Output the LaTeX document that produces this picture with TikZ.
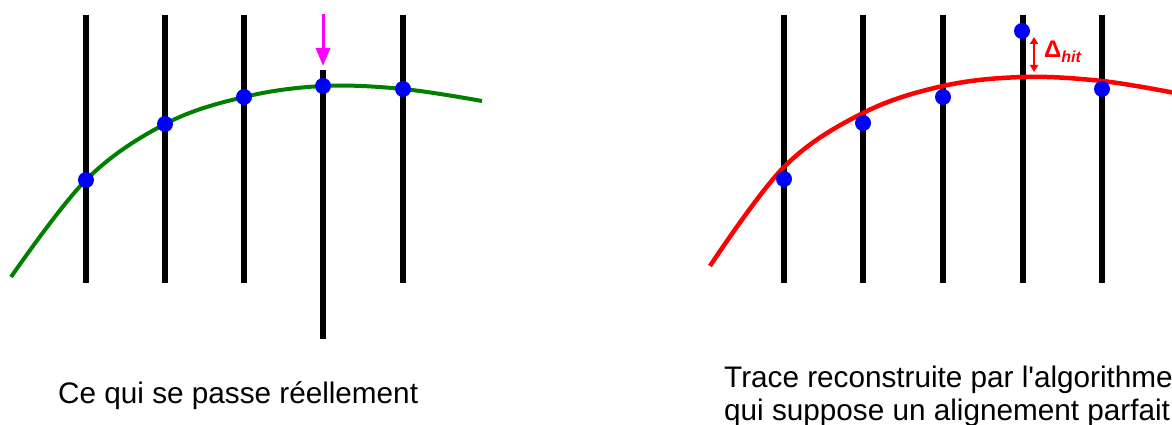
\documentclass[tikz,border=0pt]{standalone}
\usepackage{fontspec}
\newfontfamily\lib{Liberation Sans}
\usetikzlibrary{arrows.meta}
\definecolor{trkgreen}{RGB}{0,128,0}
\definecolor{trkred}{RGB}{255,0,0}
\definecolor{hitblue}{RGB}{0,0,255}
\definecolor{mag}{RGB}{255,0,255}
\tikzset{
  plane/.style={black, line width=5.5pt},
  hit/.style={circle, fill=hitblue, inner sep=0pt, minimum size=16pt},
  greentrack/.style={trkgreen, line width=4pt},
  redtrack/.style={trkred, line width=4.5pt},
  caption/.style={anchor=base west, inner sep=0pt, font=\lib\fontsize{29.7}{33}\selectfont, align=left},
}
\begin{document}
\begin{tikzpicture}[x=1pt, y=-1pt]
\clip (0,0) rectangle (1172,425);
\fill[white] (0,0) rectangle (1172,425);
% left panel planes
\foreach \n/\x in {1/86,2/165,3/244,5/403}{
  \coordinate (Lt\n) at (\x,15); \coordinate (Lb\n) at (\x,283);
  \draw[plane] (Lt\n) -- (Lb\n);
}
\coordinate (Lt4) at (323,70); \coordinate (Lb4) at (323,339);
\draw[plane] (Lt4) -- (Lb4);
% green track
\draw[greentrack] plot[smooth, tension=0.6] coordinates {(11,277) (86,180) (165,124) (244,97) (323,86) (403,89) (482,101)};
\node[hit] (Lh1) at (86,180) {};
\node[hit] (Lh2) at (165,124) {};
\node[hit] (Lh3) at (244,97) {};
\node[hit] (Lh4) at (323,86) {};
\node[hit] (Lh5) at (403,89) {};
% magenta arrow
\coordinate (Ma) at (323,14);
\coordinate (Mb) at (323,66);
\draw[mag, line width=3pt, -{Triangle[length=18pt, width=14pt]}] (Ma) -- (Mb);
% right panel planes
\foreach \n/\x in {1/784,2/863,3/943,4/1023,5/1102}{
  \coordinate (Rt\n) at (\x,15); \coordinate (Rb\n) at (\x,283);
  \draw[plane] (Rt\n) -- (Rb\n);
}
% red track
\draw[redtrack] plot[smooth, tension=0.6] coordinates {(710,266) (784,167) (863,113) (943,86) (1023,77) (1102,81) (1175,93)};
\node[hit] (Rh1) at (784,179) {};
\node[hit] (Rh2) at (863,123) {};
\node[hit] (Rh3) at (943,97) {};
\node[hit] (Rh4) at (1022,31) {};
\node[hit] (Rh5) at (1102,89) {};
% delta arrow
\coordinate (Da) at (1034,37);
\coordinate (Db) at (1034,72);
\draw[trkred, line width=2pt, {Triangle[length=7pt, width=8pt]}-{Triangle[length=7pt, width=8pt]}] (Da) -- (Db);
\node[anchor=base west, inner sep=0pt, text=trkred] (dl) at (1044,58) {\lib\bfseries\fontsize{24}{26}\selectfont Δ\raisebox{-5pt}{\fontsize{16}{17}\selectfont\itshape hit}};
% captions
\node[caption] (c1) at (58,403) {Ce qui se passe réellement};
\node[caption] (c2) at (724,420) {Trace reconstruite par l'algorithme\\qui suppose un alignement parfait.};
\end{tikzpicture}
\end{document}
